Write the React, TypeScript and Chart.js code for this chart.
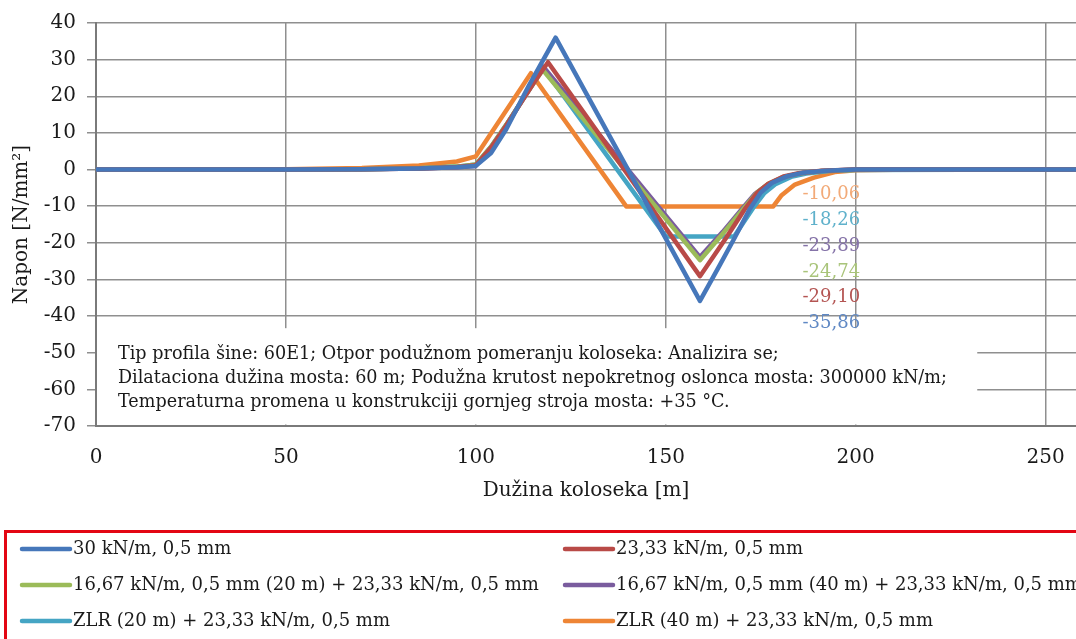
import React, { useEffect, useRef } from "react";
import { Chart, registerables } from "chart.js";

Chart.register(...registerables);

// ---------- data ----------
const SERIES_LABELS = [
  "30 kN/m, 0,5 mm",
  "23,33 kN/m, 0,5 mm",
  "16,67 kN/m, 0,5 mm (20 m) + 23,33 kN/m, 0,5 mm",
  "16,67 kN/m, 0,5 mm (40 m) + 23,33 kN/m, 0,5 mm",
  "ZLR (20 m) + 23,33 kN/m, 0,5 mm",
  "ZLR (40 m) + 23,33 kN/m, 0,5 mm",
];
const SERIES_COLORS = ["#4677BA", "#B94A47", "#9BBB59", "#7A5C9E", "#45A5C4", "#EE8535"];
const VALUE_LABEL_COLORS = ["#5F88C4", "#B45553", "#A9C47A", "#8573A8", "#5FB1CB", "#F2AA78"];

const X_30 = [0, 50, 70, 85, 95, 100, 104, 108, 114, 121, 159, 164, 168, 172, 175, 178, 182, 186, 192, 200, 258];
const Y_30 = [0, 0, 0.1, 0.3, 0.6, 1.0, 4.5, 11, 23, 36, -35.86, -26.5, -18.9, -11, -6.3, -3.6, -1.8, -0.9, -0.3, 0, 0];

const X_2333 = [0, 50, 70, 85, 95, 100, 104, 108, 112, 115, 119, 159, 166, 171, 174, 177, 181, 185, 191, 200, 258];
const Y_2333 = [0, 0, 0.1, 0.3, 0.7, 1.2, 6, 12, 18.5, 23.3, 29.3, -29.1, -18.5, -10.5, -6.4, -3.9, -1.9, -1.0, -0.35, 0, 0];

const X_1667_20 = [0, 50, 70, 85, 95, 100, 104, 108, 112, 115, 117.6, 159, 165, 171, 174, 177, 181, 185, 191, 200, 258];
const Y_1667_20 = [0, 0, 0.1, 0.35, 0.8, 1.4, 6.2, 12.2, 18.6, 23.3, 27.2, -24.74, -17.5, -10, -6.3, -3.9, -2.0, -1.1, -0.4, -0.05, 0];

const X_1667_40 = [0, 50, 70, 85, 95, 100, 104, 108, 112, 115, 117.8, 159, 165, 170.5, 173.5, 177, 181, 185, 191, 200, 258];
const Y_1667_40 = [0, 0, 0.1, 0.3, 0.6, 1.0, 5.8, 12, 18.5, 23.3, 28, -23.89, -17, -10.2, -6.6, -4.0, -2.1, -1.1, -0.4, 0, 0];

const X_ZLR_20 = [0, 50, 70, 85, 95, 100, 104, 108, 112, 115, 117.2, 150, 168, 173, 176, 179, 183, 187, 193, 200, 258];
const Y_ZLR_20 = [0, 0, 0.1, 0.35, 0.8, 1.4, 6.2, 12.2, 18.6, 23.5, 28.5, -18.26, -18.26, -10.5, -6.4, -3.9, -2.0, -1.1, -0.4, -0.1, 0];

const X_ZLR_40 = [0, 50, 70, 85, 95, 100, 114.5, 139.6, 178.3, 180.5, 184, 189, 194.5, 200, 210, 258];
const Y_ZLR_40 = [0, 0.1, 0.4, 1.1, 2.2, 3.6, 26.3, -10.06, -10.06, -7, -4.1, -2.2, -0.7, -0.2, -0.05, 0];

const SERIES_X = [X_30, X_2333, X_1667_20, X_1667_40, X_ZLR_20, X_ZLR_40];
const SERIES_Y = [Y_30, Y_2333, Y_1667_20, Y_1667_40, Y_ZLR_20, Y_ZLR_40];

const X_MIN = 0;
const X_MAX = 258;
const X_TICKS = [0, 50, 100, 150, 200, 250];
const Y_MIN = -70;
const Y_MAX = 40;
const Y_STEP = 10;

const Y_TITLE = "Napon [N/mm²]";
const X_TITLE = "Dužina koloseka [m]";

const NOTE_LINES = [
  "Tip profila šine: 60E1; Otpor podužnom pomeranju koloseka: Analizira se;",
  "Dilataciona dužina mosta: 60 m; Podužna krutost nepokretnog oslonca mosta: 300000 kN/m;",
  "Temperaturna promena u konstrukciji gornjeg stroja mosta: +35 °C.",
];
// note box extent in data units
const NOTE_RIGHT_X = 232;
const NOTE_TOP_Y = -43.3;

// value-label column (data units)
const VALUE_LABEL_X = 186;
const VALUE_LABEL_Y0 = -6.8;
const VALUE_LABEL_STEP = 7.05;

const FONT = "'DejaVu Serif', serif";

const fmt = (v: number) => v.toFixed(2).replace(".", ",");

const overlayPlugin = {
  id: "overlay",
  beforeDatasetsDraw(chart: any) {
    const { ctx, chartArea, scales } = chart;
    const xs = scales.x;
    const ys = scales.y;
    const left = chartArea.left + 1;
    const right = xs.getPixelForValue(NOTE_RIGHT_X);
    const top = ys.getPixelForValue(NOTE_TOP_Y);
    const bottom = chartArea.bottom - 1.5;
    ctx.save();
    ctx.fillStyle = "#ffffff";
    ctx.fillRect(left, top, right - left, bottom - top);
    ctx.fillStyle = "#1a1a1a";
    ctx.font = `17.6px ${FONT}`;
    ctx.textBaseline = "middle";
    ctx.textAlign = "left";
    NOTE_LINES.forEach((t, i) => {
      ctx.fillText(t, left + 21, top + 26 + i * 24);
    });
    ctx.restore();
  },
  afterDraw(chart: any) {
    const { ctx, scales } = chart;
    const xs = scales.x;
    const ys = scales.y;
    ctx.save();
    // value labels (minimum of each series), sorted from highest to lowest
    const mins = chart.data.datasets.map((d: any, i: number) => ({
      v: Math.min(...d.data.map((p: any) => p.y)),
      c: VALUE_LABEL_COLORS[i],
    }));
    mins.sort((a: any, b: any) => b.v - a.v);
    ctx.font = `18px ${FONT}`;
    ctx.textBaseline = "middle";
    ctx.textAlign = "left";
    mins.forEach((m: any, i: number) => {
      ctx.fillStyle = m.c;
      ctx.fillText(fmt(m.v), xs.getPixelForValue(VALUE_LABEL_X), ys.getPixelForValue(VALUE_LABEL_Y0 - i * VALUE_LABEL_STEP));
    });

    // legend box
    ctx.strokeStyle = "#E30613";
    ctx.lineWidth = 3;
    ctx.strokeRect(5.5, 531.5, 1200, 200);
    ctx.font = `18px ${FONT}`;
    const colX = [22, 565];
    const rowY = [549, 585, 621];
    chart.data.datasets.forEach((d: any, i: number) => {
      const cx = colX[i % 2];
      const cy = rowY[Math.floor(i / 2)];
      ctx.strokeStyle = d.borderColor;
      ctx.lineWidth = 4.5;
      ctx.lineCap = "round";
      ctx.beginPath();
      ctx.moveTo(cx, cy);
      ctx.lineTo(cx + 48, cy);
      ctx.stroke();
      ctx.fillStyle = "#1a1a1a";
      ctx.fillText(d.label, cx + 51, cy);
    });
    ctx.restore();
  },
};

export default function App() {
  const ref = useRef<HTMLCanvasElement | null>(null);
  useEffect(() => {
    document.body.style.margin = "0";
    const canvas = ref.current;
    if (!canvas) return;
    const datasets = SERIES_LABELS.map((label, i) => ({
      label,
      data: SERIES_X[i].map((x, j) => ({ x, y: SERIES_Y[i][j] })),
      borderColor: SERIES_COLORS[i],
      backgroundColor: SERIES_COLORS[i],
      borderWidth: 4.5,
      pointRadius: 0,
      tension: 0,
      borderJoinStyle: "round" as const,
      borderCapStyle: "round" as const,
      fill: false,
    }));
    const chart = new Chart(canvas, {
      type: "line",
      data: { datasets },
      plugins: [overlayPlugin],
      options: {
        animation: false,
        responsive: false,
        devicePixelRatio: 1,
        layout: { padding: { left: 0, right: 0, top: 20, bottom: 113 } },
        plugins: { legend: { display: false }, tooltip: { enabled: false } },
        scales: {
          x: {
            type: "linear",
            min: X_MIN,
            max: X_MAX,
            afterBuildTicks: (s: any) => {
              s.ticks = X_TICKS.map((v) => ({ value: v }));
            },
            afterFit: (s: any) => {
              s.height = 100;
              s.paddingRight = 0;
              s.paddingLeft = 0;
            },
            ticks: {
              font: { family: FONT, size: 20 },
              color: "#1a1a1a",
              padding: 20,
              maxRotation: 0,
              autoSkip: false,
            },
            grid: { color: "#8f8f8f", lineWidth: 1.5, drawTicks: false },
            border: { color: "#7a7a7a", width: 2 },
            title: {
              display: true,
              text: X_TITLE,
              font: { family: FONT, size: 20 },
              color: "#1a1a1a",
              padding: { top: 0, bottom: 23 },
            },
          },
          y: {
            min: Y_MIN,
            max: Y_MAX,
            afterFit: (s: any) => {
              s.width = 96;
            },
            ticks: {
              stepSize: Y_STEP,
              font: { family: FONT, size: 20 },
              color: "#1a1a1a",
              padding: 11,
            },
            grid: { color: "#8f8f8f", lineWidth: 1.5, tickLength: 9 },
            border: { color: "#7a7a7a", width: 2 },
            title: {
              display: true,
              text: Y_TITLE,
              font: { family: FONT, size: 20 },
              color: "#1a1a1a",
              padding: { top: 10, bottom: 0 },
            },
          },
        },
      },
    });
    return () => chart.destroy();
  }, []);
  return (
    <div style={{ width: 1076, height: 639, position: "relative" }}>
      <canvas ref={ref} width={1076} height={639} style={{ display: "block" }} />
    </div>
  );
}
